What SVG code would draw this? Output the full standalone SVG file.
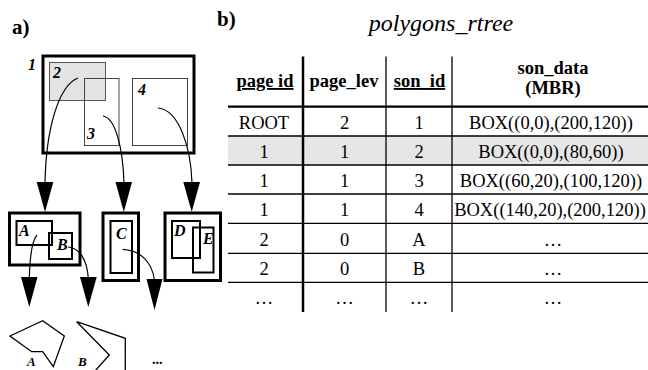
<svg xmlns="http://www.w3.org/2000/svg" width="648" height="370" viewBox="0 0 648 370">
<style>
text{font-family:"Liberation Serif","Times New Roman",serif;fill:#000}
.lbl{font-size:21px;font-weight:bold}
.num{font-size:16px;font-weight:bold;font-style:italic}
.th{font-size:18.5px;font-weight:bold;text-anchor:middle}
.td{font-size:18.5px;text-anchor:middle}
.title{font-size:24px;font-style:italic;text-anchor:middle}
.thick{fill:none;stroke:#000;stroke-width:3}
.mid{fill:none;stroke:#000;stroke-width:2}
.thin{fill:none;stroke:#444;stroke-width:1}
.curve{fill:none;stroke:#000;stroke-width:1.2}
.head{fill:#000}
.hl{stroke:#000;stroke-width:1.3}
.poly{fill:none;stroke:#000;stroke-width:1.3}
.plbl{font-size:13px;font-style:italic;font-weight:bold}
</style>
<text class="lbl" x="12" y="34">a)</text>
<text class="lbl" x="217" y="26">b)</text>
<text class="title" x="441" y="31">polygons_rtree</text>

<g id="node1">
<rect x="43" y="56" width="151" height="97" class="thick"/>
<text class="num" x="28" y="70">1</text>
</g>
<g id="node2">
<rect x="49.5" y="62.5" width="56" height="38" fill="#e3e3e3" stroke="#555" stroke-width="1"/>
<text class="num" x="53" y="78">2</text>
</g>
<g id="node3">
<rect x="84.5" y="78.5" width="34.5" height="67" class="thin"/>
<text class="num" x="87" y="139">3</text>
</g>
<g id="node4">
<rect x="132.5" y="78.5" width="55" height="67" class="thin"/>
<text class="num" x="138" y="95">4</text>
</g>

<g id="nodeAB">
<rect x="9.5" y="213" width="70.5" height="52" class="thick"/>
<rect x="16.5" y="221" width="35.5" height="24" class="mid"/>
<text class="num" x="19" y="236">A</text>
<rect x="49" y="233" width="23" height="26" class="mid"/>
<text class="num" x="57" y="250">B</text>
</g>
<g id="nodeC">
<rect x="103" y="213" width="35.5" height="67.5" class="thick"/>
<rect x="110.5" y="221" width="21.5" height="52" class="mid"/>
<text class="num" x="116" y="239">C</text>
</g>
<g id="nodeDE">
<rect x="165" y="213" width="55.5" height="67.5" class="thick"/>
<rect x="172" y="221" width="28" height="37" class="mid"/>
<text class="num" x="174" y="236">D</text>
<rect x="193" y="227.5" width="20.5" height="45" class="mid"/>
<text class="num" x="203" y="244">E</text>
</g>

<g id="polyA">
<polygon points="10,336 42.7,320.7 64.3,336 53.3,366.7 42.7,351.7 31.7,351.7" class="poly"/>
<text class="plbl" x="27" y="366">A</text>
</g>
<g id="polyB">
<polyline points="95,371 109.3,355 76.7,321.7 125.3,338.3 125.3,371" class="poly"/>
<text class="plbl" x="78" y="366">B</text>
</g>
<text x="152" y="364" style="font-size:14px;font-weight:bold">...</text>

<g id="connectors">
<path d="M78,78 C58,86 46,130 45,183" class="curve"/>
<polygon points="36.7,182 53.3,182 45,212" class="head"/>
<path d="M103,116 C116,118 123,150 124,183" class="curve"/>
<polygon points="115.5,182 132,182 123.8,212" class="head"/>
<path d="M158,108 C180,110 191,150 192,183" class="curve"/>
<polygon points="183.3,182 200,182 191.7,212" class="head"/>
<path d="M37,235 C32,240 30,255 29.3,278" class="curve"/>
<polygon points="21,277 37.5,277 29.3,307" class="head"/>
<path d="M68,247 C80,248 87,260 88.3,278" class="curve"/>
<polygon points="80,277 96.7,277 88.3,307" class="head"/>
<path d="M122.7,249.3 C140,250 152,262 154.5,280" class="curve"/>
<polygon points="146.5,279 162.5,279 154.5,310" class="head"/>
</g>

<g id="table">
<rect x="228" y="136" width="420" height="29" fill="#e6e6e6"/>
<line x1="228" y1="106.7" x2="648" y2="106.7" stroke="#000" stroke-width="2.2"/>
<line x1="228" y1="136" x2="648" y2="136" class="hl"/>
<line x1="228" y1="165" x2="648" y2="165" class="hl"/>
<line x1="228" y1="194" x2="648" y2="194" class="hl"/>
<line x1="228" y1="223.3" x2="648" y2="223.3" class="hl"/>
<line x1="228" y1="253.3" x2="648" y2="253.3" class="hl"/>
<line x1="228" y1="282.3" x2="648" y2="282.3" class="hl"/>
<line x1="303" y1="56.5" x2="303" y2="312" stroke="#000" stroke-width="2.5"/>
<line x1="386" y1="56.5" x2="386" y2="312" stroke="#000" stroke-width="1.3"/>
<line x1="452" y1="56.5" x2="452" y2="312" stroke="#000" stroke-width="1.3"/>
<text class="th" x="265" y="87" text-decoration="underline">page id</text>
<text class="th" x="344" y="87">page_lev</text>
<text class="th" x="419.5" y="87" text-decoration="underline">son_id</text>
<text class="th" x="553" y="74">son_data</text>
<text class="th" x="553" y="94">(MBR)</text>
<g class="rows">
<text class="td" x="264" y="129">ROOT</text><text class="td" x="344.5" y="129">2</text><text class="td" x="419" y="129">1</text><text class="td" x="551" y="129">BOX((0,0),(200,120))</text>
<text class="td" x="264" y="158">1</text><text class="td" x="344.5" y="158">1</text><text class="td" x="419" y="158">2</text><text class="td" x="551" y="158">BOX((0,0),(80,60))</text>
<text class="td" x="264" y="187">1</text><text class="td" x="344.5" y="187">1</text><text class="td" x="419" y="187">3</text><text class="td" x="551" y="187">BOX((60,20),(100,120))</text>
<text class="td" x="264" y="216">1</text><text class="td" x="344.5" y="216">1</text><text class="td" x="419" y="216">4</text><text class="td" x="550" y="216">BOX((140,20),(200,120))</text>
<text class="td" x="264" y="245.5">2</text><text class="td" x="344.5" y="245.5">0</text><text class="td" x="419" y="245.5">A</text><text class="td" x="553" y="245.5">…</text>
<text class="td" x="264" y="275">2</text><text class="td" x="344.5" y="275">0</text><text class="td" x="419" y="275">B</text><text class="td" x="553" y="275">…</text>
<text class="td" x="264" y="304">…</text><text class="td" x="344.5" y="304">…</text><text class="td" x="419" y="304">…</text><text class="td" x="553" y="304">…</text>
</g>
</g>
</svg>
